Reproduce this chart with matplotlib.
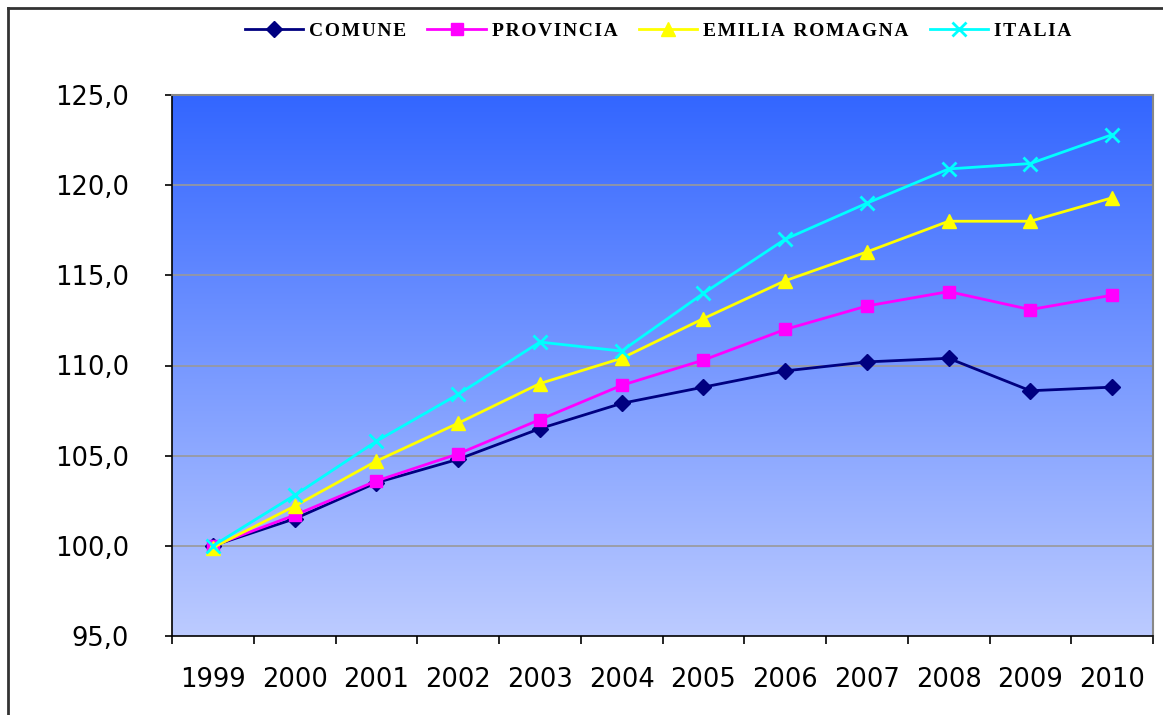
import numpy as np
import matplotlib.pyplot as plt
from matplotlib.colors import LinearSegmentedColormap
from matplotlib.lines import Line2D

# Dati (indice 1999 = 100)
anni = ['1999', '2000', '2001', '2002', '2003', '2004',
        '2005', '2006', '2007', '2008', '2009', '2010']
comune = [100.0, 101.5, 103.5, 104.8, 106.5, 107.9, 108.8, 109.7, 110.2, 110.4, 108.6, 108.8]
provincia = [100.0, 101.7, 103.6, 105.1, 107.0, 108.9, 110.3, 112.0, 113.3, 114.1, 113.1, 113.9]
emilia = [99.9, 102.2, 104.7, 106.8, 109.0, 110.4, 112.6, 114.7, 116.3, 118.0, 118.0, 119.3]
italia = [100.0, 102.8, 105.8, 108.4, 111.3, 110.8, 114.0, 117.0, 119.0, 120.9, 121.2, 122.8]

nomi = ['COMUNE', 'PROVINCIA', 'EMILIA ROMAGNA', 'ITALIA']

def spaziato(s):
    # lettere spaziate come nella legenda originale
    return '\u200a'.join(s).replace('\u200a \u200a', '  ')

fig = plt.figure(figsize=(11.63, 7.15), dpi=100)
ax = fig.add_axes([172 / 1163, 1 - 636 / 715, 981 / 1163, 541 / 715])

x = np.arange(len(anni))

# sfondo sfumato
cmap = LinearSegmentedColormap.from_list('sfondo', ['#bccbff', '#3366ff'])
grad = np.linspace(0, 1, 256).reshape(-1, 1)
ax.imshow(grad, cmap=cmap, aspect='auto', origin='lower',
          extent=[-0.5, len(anni) - 0.5, 95, 125], zorder=0)

for v in range(100, 125, 5):
    ax.axhline(v, color='#999999', lw=1.2, zorder=1)

ax.plot(x, comune, color='#000080', marker='D', ms=8, lw=2, zorder=3, label=spaziato(nomi[0]))
ax.plot(x, provincia, color='#ff00ff', marker='s', ms=9, lw=2, zorder=3, label=spaziato(nomi[1]))
ax.plot(x, emilia, color='#ffff00', marker='^', ms=10, lw=2, zorder=3, label=spaziato(nomi[2]))
ax.plot(x, italia, color='#00ffff', marker='x', ms=10, mew=2, lw=2, zorder=4, label=spaziato(nomi[3]))

ax.set_xlim(-0.5, len(anni) - 0.5)
ax.set_ylim(95, 125)
ax.set_yticks(range(95, 126, 5))
ax.set_yticklabels([f'{v},0' for v in range(95, 126, 5)], fontsize=18.5)
ax.set_xticks(x)
ax.set_xticklabels(anni, fontsize=18.5)
ax.set_xticks(np.arange(-0.5, len(anni)), minor=True)
ax.tick_params(axis='x', which='major', length=0, pad=22)
ax.tick_params(axis='x', which='minor', length=6, width=1.2, direction='out')
ax.tick_params(axis='y', length=5, width=1.2, pad=26)

for s in ['left', 'bottom']:
    ax.spines[s].set_color('black')
    ax.spines[s].set_linewidth(1.2)
for s in ['top', 'right']:
    ax.spines[s].set_color('#888888')
    ax.spines[s].set_linewidth(1.5)

leg = fig.legend(loc='center', bbox_to_anchor=(658 / 1163, 1 - 31 / 715), ncol=4,
                 frameon=False, handlelength=3.0, columnspacing=1.1, handletextpad=0.3,
                 prop={'family': ['Liberation Serif', 'DejaVu Serif'], 'weight': 'bold', 'size': 14})

# cornice esterna
fig.add_artist(Line2D([8 / 1163, 8 / 1163], [0, 1 - 8 / 715], color='#333333', lw=2))
fig.add_artist(Line2D([8 / 1163, 1], [1 - 8 / 715, 1 - 8 / 715], color='#333333', lw=2))

plt.savefig('out.png', dpi=100)
